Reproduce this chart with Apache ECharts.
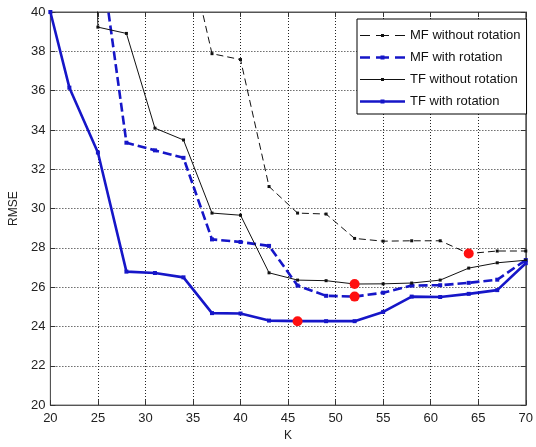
<!DOCTYPE html>
<html>
<head>
<meta charset="utf-8">
<script src="https://cdn.jsdelivr.net/npm/echarts@6/dist/echarts.min.js"></script>
<style>html,body{margin:0;padding:0;background:#fff}#c{width:536px;height:447px}</style>
</head>
<body>
<div id="c"></div>
<script>
var kValues = [20, 22, 25, 28, 31, 34, 37, 40, 43, 46, 49, 52, 55, 58, 61, 64, 67, 70];
var xTicks = [20, 25, 30, 35, 40, 45, 50, 55, 60, 65, 70];
var yTicks = [20, 22, 24, 26, 28, 30, 32, 34, 36, 38, 40];
var seriesNames = ['MF without rotation', 'MF with rotation', 'TF without rotation', 'TF with rotation'];
var mfWithout = [null, null, null, null, null, 44.2, 37.88, 37.58, 31.12, 29.77, 29.72, 28.48, 28.34, 28.36, 28.36, 27.71, 27.84, 27.84];
var mfWith = [null, null, 43.9, 33.35, 32.96, 32.58, 28.43, 28.3, 28.1, 26.08, 25.56, 25.52, 25.72, 26.08, 26.1, 26.22, 26.38, 27.38];
var tfWithout = [null, 100, 39.23, 38.91, 34.09, 33.49, 29.77, 29.66, 26.73, 26.36, 26.33, 26.16, 26.17, 26.21, 26.36, 26.97, 27.24, 27.37];
var tfWith = [40, 36.15, 32.85, 26.79, 26.72, 26.5, 24.68, 24.66, 24.3, 24.27, 24.27, 24.27, 24.74, 25.52, 25.5, 25.66, 25.85, 27.22];

var allSeries = [mfWithout, mfWith, tfWithout, tfWith];
function pairs(vals) {
  var out = [];
  for (var i = 0; i < kValues.length; i++) {
    if (vals[i] !== null) out.push([kValues[i], vals[i]]);
  }
  return out;
}
// minimum of each series (red dots)
var minPoints = allSeries.map(function (vals) {
  var bi = -1;
  for (var i = 0; i < vals.length; i++) {
    if (vals[i] !== null && (bi < 0 || vals[i] < vals[bi])) bi = i;
  }
  return [kValues[bi], vals[bi]];
});

var BLUE = '#1616c8';
var styles = [
  { color: '#111', width: 1, type: [7, 4] },
  { color: BLUE, width: 2.6, type: [9, 4] },
  { color: '#111', width: 1, type: 'solid' },
  { color: BLUE, width: 2.6, type: 'solid' }
];

// legend icon paths (line sample + small marker), drawn in a 45-wide box
function rect(x0, x1, y0, y1) {
  return 'M' + x0 + ' ' + y0 + 'H' + x1 + 'V' + y1 + 'H' + x0 + 'Z';
}
function legendPath(dashed, lw, ms) {
  var h = lw / 2, m = ms / 2;
  var p = dashed
    ? rect(0, 10, -h, h) + rect(16, 29, -h, h) + rect(35, 45, -h, h)
    : rect(0, 45, -h, h);
  p += rect(22.5 - m, 22.5 + m, -m, m);
  return 'path://' + p;
}
var legendIcons = [
  legendPath(true, 1, 3),
  legendPath(true, 2.6, 4),
  legendPath(false, 1, 3),
  legendPath(false, 2.6, 4)
];

var font = 'Liberation Sans, Arial, sans-serif';
var chart = echarts.init(document.getElementById('c'), null, { renderer: 'canvas' });
var gridLine = { show: true, lineStyle: { color: '#222', width: 1, type: [1, 2] } };
var option = {
  animation: false,
  backgroundColor: '#fff',
  grid: { left: 48, top: 12, width: 480, height: 397, show: true, borderColor: '#555', borderWidth: 1, backgroundColor: 'transparent' },
  legend: {
    data: seriesNames.map(function (n, i) { return { name: n, icon: legendIcons[i] }; }),
    orient: 'vertical',
    left: 357, top: 19,
    padding: [10, 6, 6, 3],
    itemWidth: 45, itemHeight: 14, itemGap: 9,
    symbolKeepAspect: true,
    itemStyle: { borderWidth: 0 },
    backgroundColor: '#fff', borderColor: '#000', borderWidth: 1,
    textStyle: { fontFamily: font, fontSize: 13, color: '#111' }
  },
  xAxis: [{
    type: 'value', min: 20, max: 70, interval: 5,
    name: 'K', nameLocation: 'middle', nameGap: 17,
    nameTextStyle: { fontFamily: font, fontSize: 12, color: '#222' },
    axisLine: { show: true, onZero: false, lineStyle: { color: '#555' } },
    axisTick: { show: true, inside: true, length: 5, lineStyle: { color: '#333' } },
    axisLabel: { margin: 7, fontFamily: font, fontSize: 13, color: '#222',
      customValues: xTicks },
    splitLine: gridLine
  }, {
    type: 'value', min: 20, max: 70, interval: 5, position: 'top',
    axisLine: { show: true, lineStyle: { color: '#555' } },
    axisTick: { show: true, inside: true, length: 5, lineStyle: { color: '#333' } },
    axisLabel: { show: false }, splitLine: { show: false }
  }],
  yAxis: [{
    type: 'value', min: 20, max: 40, interval: 2,
    name: 'RMSE', nameLocation: 'middle', nameGap: 28, nameRotate: 90,
    nameTextStyle: { fontFamily: font, fontSize: 12, color: '#222' },
    axisLine: { show: true, onZero: false, lineStyle: { color: '#555' } },
    axisTick: { show: true, inside: true, length: 5, lineStyle: { color: '#333' } },
    axisLabel: { margin: 5, fontFamily: font, fontSize: 13, color: '#222',
      customValues: yTicks },
    splitLine: gridLine
  }, {
    type: 'value', min: 20, max: 40, interval: 2, position: 'right',
    axisLine: { show: true, lineStyle: { color: '#555' } },
    axisTick: { show: true, inside: true, length: 5, lineStyle: { color: '#333' } },
    axisLabel: { show: false }, splitLine: { show: false }
  }],
  series: allSeries.map(function (vals, i) {
    return {
      name: seriesNames[i], type: 'line', data: pairs(vals),
      xAxisIndex: 0, yAxisIndex: 0,
      symbol: 'rect', symbolSize: i % 2 === 1 ? 4 : 3, showSymbol: true,
      clip: true, z: 2 + i,
      lineStyle: { color: styles[i].color, width: styles[i].width, type: styles[i].type },
      itemStyle: { color: styles[i].color }
    };
  }).concat([{
    name: 'minimum', type: 'scatter', data: minPoints,
    symbol: 'circle', symbolSize: 10, z: 10,
    itemStyle: { color: '#ff1010', opacity: 1, borderWidth: 0 }
  }])
};
chart.setOption(option);
</script>
</body>
</html>
